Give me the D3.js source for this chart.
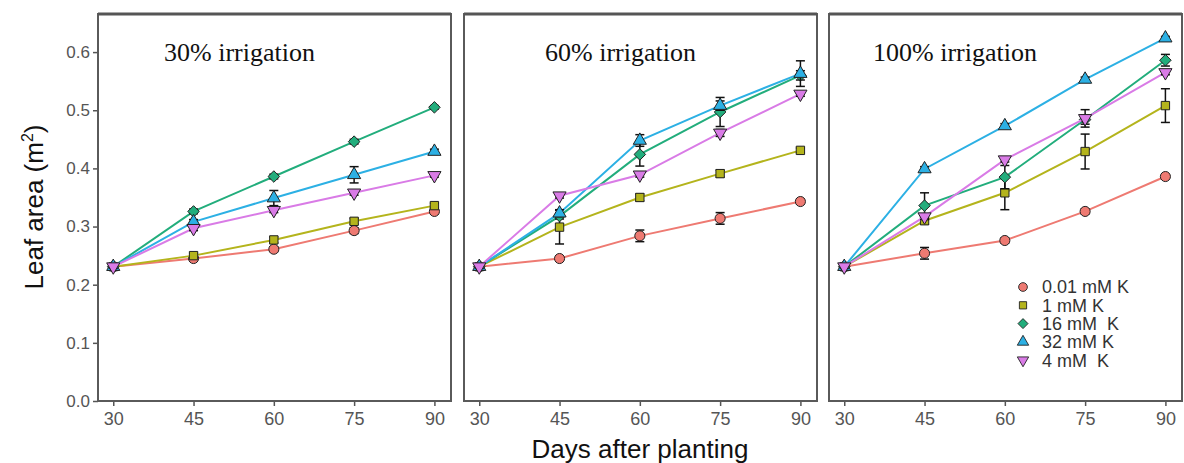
<!DOCTYPE html>
<html>
<head>
<meta charset="utf-8">
<script src="https://cdn.jsdelivr.net/npm/d3@7"></script>
<style>
  body { margin: 0; background: #fff; }
  svg { display: block; font-family: Arial, "Liberation Sans", sans-serif; }
</style>
</head>
<body>
<div id="chart"></div>
<script>
// data
const days = [30, 45, 60, 75, 90];
const treatments = ["0.01 mM K", "1 mM K", "16 mM  K", "32 mM K", "4 mM  K"];
const panelTitles = ["30% irrigation", "60% irrigation", "100% irrigation"];
const yTicks = [0.0, 0.1, 0.2, 0.3, 0.4, 0.5, 0.6];

// mean leaf area, one row per treatment (same order as treatments)
const irr30 = [
  [0.231, 0.245, 0.261, 0.293, 0.326],
  [0.231, 0.250, 0.277, 0.309, 0.336],
  [0.231, 0.326, 0.386, 0.446, 0.505],
  [0.231, 0.308, 0.349, 0.389, 0.429],
  [0.231, 0.297, 0.328, 0.358, 0.388]
];
const irr60 = [
  [0.231, 0.245, 0.284, 0.314, 0.343],
  [0.231, 0.299, 0.350, 0.391, 0.431],
  [0.231, 0.318, 0.424, 0.497, 0.560],
  [0.231, 0.323, 0.448, 0.508, 0.563],
  [0.231, 0.353, 0.389, 0.461, 0.528]
];
const irr100 = [
  [0.231, 0.254, 0.276, 0.326, 0.386],
  [0.231, 0.310, 0.358, 0.429, 0.508],
  [0.231, 0.336, 0.385, 0.484, 0.586],
  [0.231, 0.399, 0.473, 0.553, 0.624],
  [0.231, 0.317, 0.415, 0.486, 0.565]
];
// standard errors
const err30 = [
  [0.003, 0.004, 0.004, 0.005, 0.004],
  [0.003, 0.004, 0.005, 0.005, 0.004],
  [0.003, 0.004, 0.004, 0.004, 0.003],
  [0.003, 0.004, 0.013, 0.014, 0.004],
  [0.003, 0.004, 0.004, 0.004, 0.003]
];
const err60 = [
  [0.003, 0.004, 0.010, 0.010, 0.004],
  [0.003, 0.029, 0.006, 0.006, 0.004],
  [0.003, 0.005, 0.020, 0.025, 0.008],
  [0.003, 0.006, 0.010, 0.008, 0.022],
  [0.003, 0.004, 0.004, 0.006, 0.004]
];
const err100 = [
  [0.003, 0.010, 0.004, 0.004, 0.003],
  [0.003, 0.006, 0.029, 0.030, 0.029],
  [0.003, 0.022, 0.020, 0.008, 0.010],
  [0.003, 0.004, 0.004, 0.004, 0.003],
  [0.003, 0.005, 0.004, 0.015, 0.004]
];

const panelData = [irr30, irr60, irr100];
const panelErr = [err30, err60, err100];

const colors = ["#ee7a72", "#b4b41c", "#22ad7c", "#2cb0e4", "#d97be6"];
const symbols = [d3.symbolCircle, d3.symbolSquare, d3.symbolDiamond2, d3.symbolTriangle, d3.symbolTriangle];
const symbolRot = [0, 0, 0, 0, 180];
const symbolSize = [80, 70, 85, 75, 75];

const W = 1184, H = 463;
const svg = d3.select("#chart").append("svg").attr("width", W).attr("height", H);

const panelLeft = [98, 464, 829];
const panelW = 353;
const plotTop = 14, plotBottom = 401;
const titleOffset = [66, 81, 44];

const y = d3.scaleLinear().domain([0, 0.6655]).range([plotBottom, plotTop]);

panelData.forEach((vals, p) => {
  const x = d3.scaleLinear().domain([27.15, 93.1]).range([panelLeft[p], panelLeft[p] + panelW]);
  const g = svg.append("g");

  // x axis
  const xa = g.append("g")
    .attr("transform", `translate(0,${plotBottom})`)
    .call(d3.axisBottom(x).tickValues(days).tickSize(5).tickPadding(6));
  xa.select(".domain").remove();
  xa.selectAll("line").attr("stroke", "#555").attr("stroke-width", 1.5);
  xa.selectAll("text").attr("fill", "#555").style("font-size", "18px");

  if (p === 0) {
    const ya = g.append("g")
      .attr("transform", `translate(${panelLeft[p]},0)`)
      .call(d3.axisLeft(y).tickValues(yTicks).tickFormat(d3.format(".1f")).tickSize(5).tickPadding(3));
    ya.select(".domain").remove();
    ya.selectAll("line").attr("stroke", "#555").attr("stroke-width", 1.5);
    ya.selectAll("text").attr("fill", "#555").style("font-size", "17px");
  }

  // panel border
  g.append("rect")
    .attr("x", panelLeft[p]).attr("y", plotTop)
    .attr("width", panelW).attr("height", plotBottom - plotTop)
    .attr("fill", "none").attr("stroke", "#5a5a5a").attr("stroke-width", 2);
  g.append("line")
    .attr("x1", panelLeft[p]).attr("x2", panelLeft[p] + panelW)
    .attr("y1", plotTop).attr("y2", plotTop)
    .attr("stroke", "#555").attr("stroke-width", 3);

  // panel title
  g.append("text")
    .attr("x", panelLeft[p] + titleOffset[p]).attr("y", 61)
    .attr("font-family", "'Liberation Serif', 'Times New Roman', serif")
    .attr("font-size", 26).attr("fill", "#111")
    .text(panelTitles[p]);

  const line = d3.line().x((d, i) => x(days[i])).y(d => y(d));

  vals.forEach((series, s) => {
    const errs = panelErr[p][s];
    const sg = g.append("g");
    sg.append("path")
      .datum(series)
      .attr("d", line)
      .attr("fill", "none")
      .attr("stroke", colors[s])
      .attr("stroke-width", 2);

    // error bars
    series.forEach((v, i) => {
      const cx = x(days[i]);
      const y1 = y(v + errs[i]), y2 = y(v - errs[i]);
      sg.append("line").attr("x1", cx).attr("x2", cx).attr("y1", y1).attr("y2", y2)
        .attr("stroke", "#111").attr("stroke-width", 1.5);
      [y1, y2].forEach(yy => {
        sg.append("line").attr("x1", cx - 4.5).attr("x2", cx + 4.5).attr("y1", yy).attr("y2", yy)
          .attr("stroke", "#111").attr("stroke-width", 1.5);
      });
    });

    sg.selectAll(".pt")
      .data(series)
      .enter().append("path")
      .attr("class", "pt")
      .attr("d", d3.symbol().type(symbols[s]).size(symbolSize[s]))
      .attr("transform", (d, i) => `translate(${x(days[i])},${y(d)}) rotate(${symbolRot[s]})`)
      .attr("fill", colors[s])
      .attr("stroke", "#222")
      .attr("stroke-width", 1);
  });
});

// legend
const leg = svg.append("g");
treatments.forEach((t, i) => {
  const ly = 287 + i * 18.3;
  leg.append("path")
    .attr("d", d3.symbol().type(symbols[i]).size(symbolSize[i] * 0.75))
    .attr("transform", `translate(1023,${ly}) rotate(${symbolRot[i]})`)
    .attr("fill", colors[i]).attr("stroke", "#222").attr("stroke-width", 0.9);
  leg.append("text")
    .attr("x", 1042).attr("y", ly)
    .attr("dy", "0.36em")
    .attr("font-size", 18).attr("fill", "#333")
    .style("white-space", "pre")
    .text(t);
});

// axis titles
svg.append("text")
  .attr("transform", `translate(43,207) rotate(-90)`)
  .attr("text-anchor", "middle")
  .attr("font-size", 26).attr("fill", "#111")
  .html("Leaf area (m<tspan dy='-10' font-size='16'>2</tspan><tspan dy='10'>)</tspan>");

svg.append("text")
  .attr("x", 640).attr("y", 458)
  .attr("text-anchor", "middle")
  .attr("font-size", 26).attr("fill", "#111")
  .text("Days after planting");
</script>
</body>
</html>
